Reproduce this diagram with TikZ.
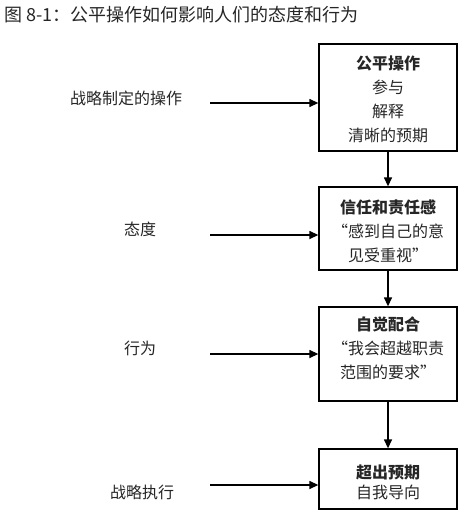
\documentclass[tikz,border=0pt]{standalone}
\usepackage{fontspec}
\setmainfont{Noto Sans CJK SC}
\usetikzlibrary{arrows.meta}
\begin{document}
\begin{tikzpicture}[x=1pt,y=-1pt,
  box/.style={draw=black,line width=1.3pt,minimum width=138pt,inner sep=0pt},
  boxtext/.style={align=center,font=\fontsize{16}{24}\selectfont,text=black!85,inner sep=0pt},
  side/.style={font=\fontsize{16}{18}\selectfont,text=black!85,inner sep=0pt},
  arr/.style={line width=1.3pt,-{Triangle[length=9pt,width=8pt]}}]
\useasboundingbox (0,0) rectangle (466,519);
\node[anchor=west,font=\fontsize{18}{20}\selectfont,text=black!85,inner sep=0pt] (title) at (4,15) {图 8-1：公平操作如何影响人们的态度和行为};
% boxes
\node[box,minimum height=107pt] (b1) at (388,97.5) {};
\node[box,minimum height=83pt] (b2) at (388,228.5) {};
\node[box,minimum height=94pt] (b3) at (388,354) {};
\node[box,minimum height=60pt] (b4) at (388,479) {};
% box texts
\node[boxtext] (t1) at (388,99) {\textbf{公平操作}\\参与\\解释\\清晰的预期};
\node[boxtext] (t2) at (388,231) {\textbf{信任和责任感}\\“感到自己的意\\见受重视”};
\node[boxtext] (t3) at (388,348) {\textbf{自觉配合}\\“我会超越职责\\范围的要求”};
\node[boxtext,font=\fontsize{16}{20}\selectfont] (t4) at (388,482) {\textbf{超出预期}\\自我导向};
% side labels
\node[side] (l1) at (126,98) {战略制定的操作};
\node[side] (l2) at (140,229) {态度};
\node[side] (l3) at (140,348) {行为};
\node[side] (l4) at (142,492) {战略执行};
% arrow starts
\coordinate (s1) at (210,103);
\coordinate (s2) at (210,235);
\coordinate (s3) at (210,354);
\coordinate (s4) at (210,485);
\draw[arr] (s1) -- (s1 -| b1.west);
\draw[arr] (s2) -- (s2 -| b2.west);
\draw[arr] (s3) -- (s3 -| b3.west);
\draw[arr] (s4) -- (s4 -| b4.west);
\draw[arr] (b1.south) -- (b2.north);
\draw[arr] (b2.south) -- (b3.north);
\draw[arr] (b3.south) -- (b4.north);
\end{tikzpicture}
\end{document}
